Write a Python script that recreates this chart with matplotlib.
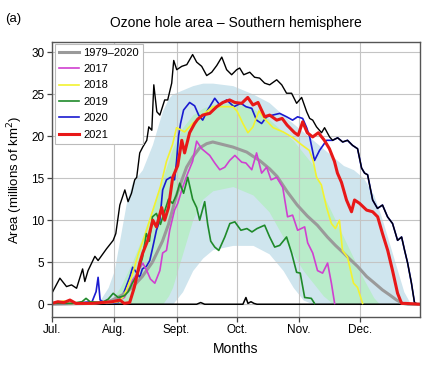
import matplotlib
matplotlib.use("Agg")
import matplotlib.pyplot as plt

plt.rcParams["font.family"] = ["Liberation Sans", "DejaVu Sans"]

# days counted from 1 July
month_days = [0, 31, 62, 92, 123, 153]
month_labels = ["Jul.", "Aug.", "Sept.", "Oct.", "Nov.", "Dec."]

# 1979-2020 maximum
max_days = [0, 4, 7.3, 9.8, 12.3, 15.3, 16.4, 18, 21.4, 23, 27.2, 30.5, 31.8, 33.8, 36.3, 37.9,
            39.6, 41.2, 42.2, 43.7, 45.2, 47.2, 48.2, 49.7, 50.7, 52.2, 53.7, 56.1, 57.6, 59.6,
            60.6, 62.1, 64.6, 67.1, 70, 72, 74.5, 77, 79.5, 82, 84.5, 86.9, 89.4, 91.9, 93.4,
            95.4, 98.4, 100.8, 103.3, 105.8, 108.3, 111.8, 114.3, 116.7, 119.2, 121.7, 124.2,
            126.7, 128.2, 129.7, 131.6, 134.1, 135.6, 138.1, 139.6, 142.1, 144.6, 147, 149.5,
            152, 154, 155.5, 157, 159.5, 161.9, 164.4, 166.9, 169.4, 171.9, 173.9, 175.4,
            176.9, 178.8, 180.3, 181.8, 183]
max_area = [1.3, 3.1, 2.1, 2.3, 1.9, 4.2, 2.7, 4.0, 5.7, 5.2, 6.6, 7.6, 8.4, 11.8, 13.6, 12.2,
            13.2, 14.8, 15.1, 18, 18.7, 19.5, 21.1, 20.7, 26.1, 22.9, 22.5, 24.3, 24.3, 26.3,
            29, 27.9, 28.3, 28.5, 29.7, 28.8, 28.3, 27.2, 27.6, 28.4, 29.4, 27.9, 27.3, 27.9, 28.1,
            27.3, 27.6, 27.0, 26.9, 26.3, 26.1, 26.7, 26.1, 25.1, 25.1, 23.9, 24.6,
            22.9, 22.1, 21.9, 21.1, 20.4, 21.0, 19.9, 19.5, 19.8, 19.3, 19.5, 18.9,
            18.5, 16.2, 15.6, 15.4, 12.4, 11.4, 11.8, 10.4, 9.6, 7.6, 8.0, 6.4,
            4.9, 2.5, 0.2, 0, 0]

# 1979-2020 minimum
min_days = [0, 72, 74, 76, 95, 96.5, 97.5, 99, 100.5, 102, 183]
min_area = [0, 0, 0.2, 0, 0, 0.8, 0.1, 0.3, 0.1, 0, 0]

# 1979-2020 mean
mean_days = [0, 20, 28, 31, 35, 40, 45, 50, 55, 58, 62, 65, 67, 70, 73.5, 77, 80, 85, 90, 96.9,
             100, 103.3, 108.3, 112, 117, 122, 127, 132, 137, 141, 145, 148, 152, 156.5, 160,
             164.4, 168, 171.4, 174.4, 177, 183]
mean_area = [0, 0.1, 0.3, 0.6, 1.1, 2, 3.3, 5, 7.5, 9.5, 13, 15, 16.3, 17.5, 18.6, 19.1, 19.3,
             19.0, 18.7, 18.1, 17.6, 17.1, 16.1, 15.2, 13.4, 11.8, 10.5, 9.4, 8, 7, 6.1, 5.4,
             4.5, 3.3, 2.6, 1.7, 1.1, 0.5, 0.1, 0, 0]

# percentile bands
band_days = [0, 20, 24, 28, 31, 34, 37, 40, 45, 50, 55, 58, 60, 65, 70, 75, 80, 90, 100, 108,
             115, 120, 125, 130, 135, 140, 145, 150, 155, 160, 163, 165, 170, 175, 178, 183]
outer_lo = [0, 0, 0, 0, 0, 0, 0, 0, 0, 0, 0, 0, 0, 1.5, 4, 5.5, 6.5, 7, 7, 6,
            4, 2, 0.5, 0, 0, 0, 0, 0, 0, 0, 0, 0, 0, 0, 0, 0]
outer_hi = [0, 0, 0.5, 2, 4, 8, 12, 14.5, 16, 19, 23, 24.5, 25, 25.5, 26, 26.3, 26.3, 26, 25, 24,
            22.5, 21.5, 20.5, 19.5, 18.5, 17.5, 16.5, 16, 15, 13, 11, 9.5, 5.5, 1.5, 0.2, 0]
inner_lo = [0, 0, 0, 0, 0, 0, 0, 0, 0, 0, 0, 1, 2, 6, 10, 12.5, 13.5, 14, 13, 11,
            8, 6, 4, 2.5, 1, 0, 0, 0, 0, 0, 0, 0, 0, 0, 0, 0]
inner_hi = [0, 0, 0, 0.3, 1, 2, 3.5, 5, 8, 11.5, 15, 17, 18.5, 21, 22.5, 23.3, 23.8, 24, 23.3, 22,
            20.5, 19.5, 18, 16.5, 13, 10.5, 8, 5.5, 3, 0.8, 0, 0, 0, 0, 0, 0]

# single years
y2017_days = [0, 15, 25, 32, 36, 38.7, 40.2, 42, 45.2, 47.2, 49, 51.2, 53.7, 55.1, 57, 58.6, 61,
              62.6, 65, 67.6, 70, 72, 74.5, 77, 78.5, 81, 83.5, 86, 88.4, 91, 94.4, 96.5, 99.4,
              101.8, 104.3, 106.8, 109, 111.8, 114.8, 117.2, 119.7, 122.2, 125.7, 127.2, 129.7,
              132.1, 134.6, 137.1, 139, 140.6]
y2017_area = [0.1, 0.1, 0.2, 0.3, 0.8, 2, 2.9, 3.5, 4.9, 4, 3, 2.5, 4, 6.1, 6.4, 8.8, 11.2,
              12, 13.9, 15.6, 17, 19.4, 18.5, 18, 17.7, 16.8, 16, 16.3, 17.1, 17.7, 16.9, 16.8, 16,
              18, 15.6, 16.3, 14.8, 15.1, 13.9, 10.4, 10.6, 8.8, 9.2, 7.3, 6.1,
              4, 3.7, 4.9, 2.5, 0.1]

y2018_days = [0, 6, 8, 20, 30, 33, 36, 40, 43, 46, 50, 54, 57, 60, 62, 66, 70, 75, 80, 85, 90,
              92, 95, 97.5, 100, 103, 106, 110, 115, 120, 124, 128, 130, 131.6, 134, 136.6, 139,
              141, 143, 144.5, 147, 150, 152, 154.5]
y2018_area = [0.1, 0.4, 0.1, 0.1, 0.2, 0.3, 1, 3.5, 6, 8, 11, 14, 17, 19, 21, 20.5, 21.5, 22.5,
              23.5, 23.5, 23.5, 23, 21.5, 20.4, 21.1, 23, 22, 21, 20.5, 19.8, 19, 18.3, 17, 15.1,
              14.2, 11.5, 9.6, 9, 10, 6.4, 5.6, 2.5, 2, 0.1]

y2019_days = [0, 10, 15, 17, 19, 25, 28, 30.5, 33, 36, 38, 40, 42.5, 45, 47, 48.5, 50, 52, 54, 56,
              58, 60, 62, 63.6, 65.5, 67.6, 70, 72, 73.5, 76, 77.5, 79, 81, 83, 86, 88.5, 91, 94,
              97, 99.5, 102, 105.8, 108.3, 110.8, 113.3, 116.7, 119.2, 121.7, 123.5, 125.7, 129,
              130.6]
y2019_area = [0.1, 0.1, 0.3, 0.7, 0.3, 0.2, 0.6, 1.3, 0.8, 1.0, 1.5, 2.5, 3.5, 5.5, 8.4, 7.5,
              10.4, 10.8, 9.5, 11, 12.5, 12, 13, 14.4, 13.2, 15.1, 12.5, 11.5, 10, 12.2, 9.5, 7.5,
              6.8, 6.4, 8, 9.6, 9.8, 8.8, 9, 8.6, 9, 9.4, 8, 6.8, 7, 8, 6.1, 3.8, 3.7, 0.8, 0.7,
              0.1]

y2020_days = [0, 10, 20, 22, 23, 24, 27, 33, 36, 38.7, 40.2, 42, 43.7, 45, 47, 48.7, 50.2, 52,
              53.7, 55.1, 57, 59, 61, 62, 63, 64, 65.5, 68.5, 71, 73, 75, 77.5, 81, 83.5, 86.9,
              90.5, 94, 96.5, 99.4, 101.8, 104.3, 106.8, 109.8, 113.3, 116.7, 119.7, 122.2,
              124.7, 126.7, 128.2, 130.6, 133.1, 136.6, 139.6, 142.1, 144.6, 147, 149.5, 152,
              154, 155.5, 157, 159.5, 161.9, 164.4, 166.9, 169.4, 171.9, 173.9, 175.4, 176.9,
              178.8, 180.3, 181.8]
y2020_area = [0, 0.1, 0.3, 1.5, 3.2, 0.5, 0.1, 0.2, 1.5, 3.2, 4.4, 3.8, 3.2, 4.2, 4.5, 5.2, 6.8,
              8.8, 10, 13.6, 14.8, 15.1, 14.8, 17, 20, 21.5, 23.1, 24, 23.6, 22.5, 21.9, 23.1,
              24.5, 23.7, 24.3, 23.5, 23.9, 23.5, 23.3, 21.9, 21.5, 22.3, 22.5, 22.7, 22.3, 21.9,
              22.3, 22.1, 21, 19.9, 17.1, 18.3, 19.5, 19.5, 19.8, 19.3, 19.5, 18.9, 18.5,
              16.2, 15.6, 15.4, 12.4, 11.4, 11.8, 10.4, 9.6, 7.6, 8.0, 6.4, 4.9,
              2.5, 0.2, 0]

y2021_days = [0, 3, 6, 9, 12, 20, 25, 30, 33.8, 36, 38.7, 41, 43.7, 45.2, 47.7, 50.2, 52, 54.6,
              56.1, 58, 60.1, 62.6, 64.6, 66, 68.5, 71, 72.5, 75, 78.5, 82, 85, 88.4, 91, 94.4,
              97.4, 100, 102.5, 105.8, 108.3, 111.8, 114.5, 117, 120.7, 122.5, 124.7, 127, 129.7,
              132.5, 135.5, 138, 140.5, 142, 144, 146.5, 149, 150.5, 153, 156.5, 159.5, 162,
              164.4, 167, 169.4, 171.9, 173.9, 176, 183]
y2021_area = [0.1, 0.3, 0.2, 0.5, 0.1, 0.1, 0.2, 0.3, 0.5, 0.1, 0.2, 2, 4.9, 6.1, 7.6, 10, 9.2,
              11.5, 10, 11.5, 15.1, 16.5, 19.5, 18, 20.4, 21.5, 22, 22.5, 22.7, 23.5, 24, 24.3,
              24, 23.9, 24.6, 23.7, 24, 22.3, 22.5, 21.9, 22.1, 21.3, 20.4, 20.1, 21.7, 20.4,
              19.9, 20.4, 19.5, 18.5, 17, 15.6, 14.5, 12.4, 11, 12.4, 12, 11.2, 11, 10.4, 8.4,
              6.4, 4, 1.3, 0.1, 0.1, 0]


fig = plt.figure(figsize=(4.32, 3.68), dpi=100)
ax = fig.add_axes([0.120, 0.139, 0.852, 0.747])

ax.fill_between(band_days, outer_lo, outer_hi, color="#cfe5ee", lw=0)
ax.fill_between(band_days, inner_lo, inner_hi, color="#b9ecca", lw=0)

ax.plot(min_days, min_area, color="black", lw=1.1)
ax.plot(y2020_days, y2020_area, color="#1a1ad0", lw=1.2)
ax.plot(max_days, max_area, color="black", lw=1.0)
ax.plot(mean_days, mean_area, color="#9a9a9a", lw=2.2, label="1979\u20132020")
ax.plot(y2017_days, y2017_area, color="#d040d0", lw=1.2, label="2017")
ax.plot(y2018_days, y2018_area, color="#f2f230", lw=1.2, label="2018")
ax.plot(y2019_days, y2019_area, color="#1f8a2a", lw=1.2, label="2019")
ax.plot([], [], color="#1a1ad0", lw=1.2, label="2020")
ax.plot(y2021_days, y2021_area, color="#e81818", lw=2.2, label="2021")

ax.set_xlim(0, 183)
ax.set_ylim(-1.5, 31.2)
ax.set_xticks(month_days)
ax.set_xticklabels(month_labels)
ax.set_yticks([0, 5, 10, 15, 20, 25, 30])
ax.grid(True, color="#c4c4c4", lw=0.8)
ax.tick_params(labelsize=8.5, length=3.5, width=0.9, color="#444444", pad=2)
for s in ax.spines.values():
    s.set_color("#555555")
    s.set_linewidth(1.0)

ax.set_xlabel("Months", fontsize=10, labelpad=4)
ax.set_ylabel("Area (millions of km$^2$)", fontsize=9.5, labelpad=4)
ax.set_title("Ozone hole area \u2013 Southern hemisphere", fontsize=10, pad=11)
fig.text(0.012, 0.94, "(a)", fontsize=9.5)

leg = ax.legend(loc="upper left", bbox_to_anchor=(0.005, 1.0), fontsize=8, frameon=True,
                fancybox=False, framealpha=1, edgecolor="#bbbbbb", borderaxespad=0.15,
                labelspacing=0.58, handlelength=1.8, handletextpad=0.35, borderpad=0.35)
leg.get_frame().set_linewidth(0.8)

plt.savefig("out.png", dpi=100)
